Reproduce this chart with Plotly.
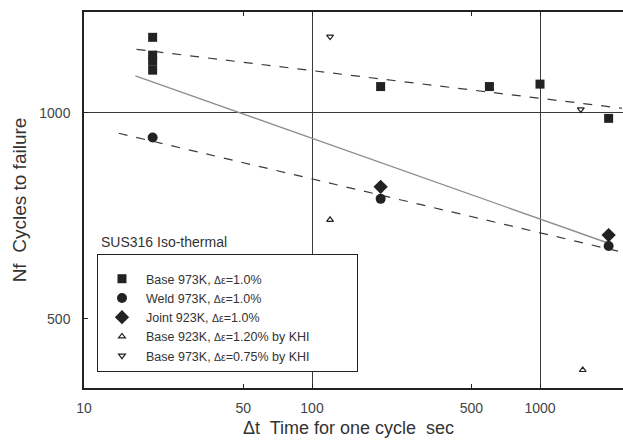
import plotly.graph_objects as go

# ---- data ----
base973_x = [20, 20, 20, 20, 200, 600, 1000, 2000]
base973_y = [1290, 1215, 1190, 1155, 1093, 1093, 1102, 982]

weld973_x = [20, 200, 2000]
weld973_y = [921, 749, 639]

joint923_x = [200, 2000]
joint923_y = [780, 663]

khi923_x = [120, 1540]
khi923_y = [698, 421]

khi973_x = [120, 1510]
khi973_y = [1293, 1012]

# regression lines (end points)
fit_base_x = [17, 2290]
fit_base_y = [1239, 1016]
fit_all_x = [16.8, 2000]
fit_all_y = [1133, 645]
fit_weld_x = [14.2, 2290]
fit_weld_y = [934, 626]

x_ticks = [10, 50, 100, 500, 1000]
y_ticks = [500, 1000]
x_grid = [100, 1000]
y_grid = [1000]

FONT = "Liberation Sans, Arial, sans-serif"
DARK = "#222222"
TXT = "#333333"
small = "<span style='font-size:10.5px'>Δε</span>"
pad = "\u00a0" * 12

fig = go.Figure()

# fit lines
fig.add_trace(go.Scatter(x=fit_base_x, y=fit_base_y, mode="lines", showlegend=False,
                         line=dict(color="#3a3a3a", width=1.2, dash="dash"), hoverinfo="skip"))
fig.add_trace(go.Scatter(x=fit_all_x, y=fit_all_y, mode="lines", showlegend=False,
                         line=dict(color="#8f8f8f", width=1.4), hoverinfo="skip"))
fig.add_trace(go.Scatter(x=fit_weld_x, y=fit_weld_y, mode="lines", showlegend=False,
                         line=dict(color="#3a3a3a", width=1.2, dash="dash"), hoverinfo="skip"))

# data
fig.add_trace(go.Scatter(x=base973_x, y=base973_y, mode="markers",
                         name=f"Base 973K, {small}=1.0%",
                         marker=dict(symbol="square", size=9, color=DARK)))
fig.add_trace(go.Scatter(x=weld973_x, y=weld973_y, mode="markers",
                         name=f"Weld 973K, {small}=1.0%",
                         marker=dict(symbol="circle", size=10, color=DARK)))
fig.add_trace(go.Scatter(x=joint923_x, y=joint923_y, mode="markers",
                         name=f"Joint 923K, {small}=1.0%",
                         marker=dict(symbol="diamond", size=11, color=DARK)))
fig.add_trace(go.Scatter(x=khi923_x, y=khi923_y, mode="markers",
                         name=f"Base 923K, {small}=1.20% by KHI" + pad,
                         marker=dict(symbol="triangle-up-open", size=6, color=DARK,
                                     line=dict(width=1.2, color=DARK))))
fig.add_trace(go.Scatter(x=khi973_x, y=khi973_y, mode="markers",
                         name=f"Base 973K, {small}=0.75% by KHI" + pad,
                         marker=dict(symbol="triangle-down-open", size=6, color=DARK,
                                     line=dict(width=1.2, color=DARK))))

axis_common = dict(
    type="log",
    showline=True, linecolor=DARK, linewidth=1.5,
    ticks="inside", ticklen=4, tickcolor=DARK,
    tickfont=dict(family=FONT, size=14, color="#444444"),
    showgrid=False, zeroline=False,
)

fig.update_layout(
    width=623, height=444, autosize=False,
    margin=dict(l=84, r=0, t=12, b=56, pad=0),
    paper_bgcolor="white", plot_bgcolor="white",
    font=dict(family=FONT, color=DARK),
    xaxis=dict(axis_common, range=[1, 3.364], tickmode="array", tickvals=x_ticks,
               ticktext=[str(v) for v in x_ticks], mirror="ticks", ticklabelstandoff=6,
               minor=dict(tickmode="array", tickvals=x_grid, showgrid=True,
                          gridcolor="#3a3a3a", gridwidth=1.3, ticks="")),
    yaxis=dict(axis_common, range=[2.598, 3.1476], tickmode="array", tickvals=y_ticks,
               ticktext=[str(v) for v in y_ticks], mirror=False, ticklabelstandoff=9,
               title=dict(text="Nf  Cycles to failure", standoff=8,
                          font=dict(family=FONT, size=19, color=TXT)),
               minor=dict(tickmode="array", tickvals=y_grid, showgrid=True,
                          gridcolor="#3a3a3a", gridwidth=1.3, ticks="")),
    legend=dict(x=0.0241, y=0.3564, xanchor="left", yanchor="top",
                bordercolor=DARK, borderwidth=1, bgcolor="white",
                font=dict(family=FONT, size=12.5, color=TXT),
                title=dict(text=" ", font=dict(size=7)),
                itemwidth=38, tracegroupgap=0),
    showlegend=True,
    annotations=[
        dict(text="SUS316 Iso-thermal", xref="paper", yref="paper", x=0.0278, y=0.388,
             xanchor="left", yanchor="middle", showarrow=False,
             font=dict(family=FONT, size=14, color=TXT)),
        dict(text="Δt  Time for one cycle  sec", xref="paper", yref="paper", x=0.4898, y=-0.1064,
             xanchor="center", yanchor="middle", showarrow=False,
             font=dict(family=FONT, size=18, color=TXT)),
    ],
)

fig.write_html("out.html")
